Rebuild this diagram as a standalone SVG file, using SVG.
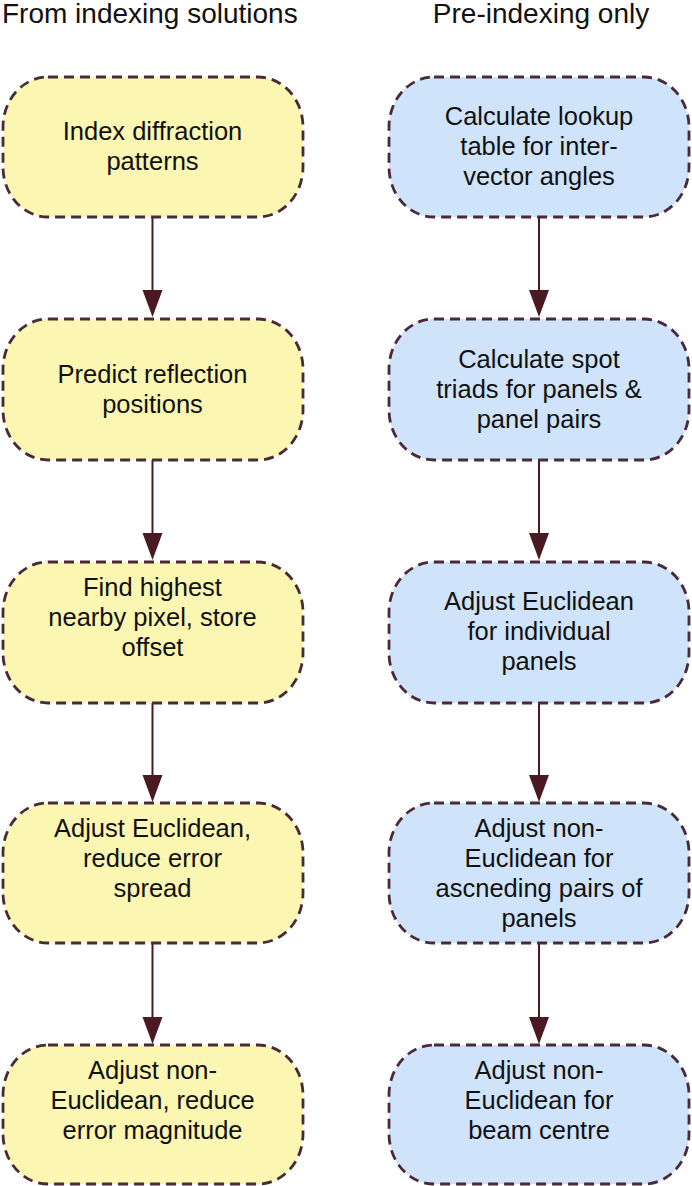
<svg xmlns="http://www.w3.org/2000/svg" width="692" height="1186" viewBox="0 0 692 1186">
<style>
.hdr{font-family:"Liberation Sans",Arial,sans-serif;font-size:28px;fill:#111}
.t{font-family:"Liberation Sans",Arial,sans-serif;font-size:25.5px;fill:#111;text-anchor:middle}
.y{fill:#fbf6b2;stroke:#4a2a38;stroke-width:2.8;stroke-dasharray:10 6}
.b{fill:#cfe3fa;stroke:#4a2a38;stroke-width:2.8;stroke-dasharray:10 6}
.c{stroke:#4a1a22;stroke-width:2;fill:none}
.h{fill:#4a1a22}
</style>
<text class="hdr" x="2" y="23">From indexing solutions</text>
<text class="hdr" x="541" y="23" text-anchor="middle">Pre-indexing only</text>
<g id="connectors">
<path class="c" d="M152.5,217 V290"/><path class="h" d="M142.5,290 L162.5,290 L152.5,317 Z"/>
<path class="c" d="M152.5,460 V533"/><path class="h" d="M142.5,533 L162.5,533 L152.5,560 Z"/>
<path class="c" d="M152.5,703 V775"/><path class="h" d="M142.5,775 L162.5,775 L152.5,802 Z"/>
<path class="c" d="M152.5,943 V1017"/><path class="h" d="M142.5,1017 L162.5,1017 L152.5,1044 Z"/>
<path class="c" d="M539,217 V290"/><path class="h" d="M529,290 L549,290 L539,317 Z"/>
<path class="c" d="M539,460 V533"/><path class="h" d="M529,533 L549,533 L539,560 Z"/>
<path class="c" d="M539,703 V775"/><path class="h" d="M529,775 L549,775 L539,802 Z"/>
<path class="c" d="M539,943 V1017"/><path class="h" d="M529,1017 L549,1017 L539,1044 Z"/>
</g>
<g id="L1"><rect class="y" x="3" y="77" width="300" height="140" rx="45" ry="50"/>
<text class="t" x="152.5" y="140">Index diffraction</text><text class="t" x="152.5" y="170">patterns</text></g>
<g id="L2"><rect class="y" x="3" y="319" width="300" height="141" rx="45" ry="50"/>
<text class="t" x="152.5" y="383">Predict reflection</text><text class="t" x="152.5" y="413">positions</text></g>
<g id="L3"><rect class="y" x="3" y="562" width="300" height="141" rx="45" ry="50"/>
<text class="t" x="152.5" y="596">Find highest</text><text class="t" x="152.5" y="626">nearby pixel, store</text><text class="t" x="152.5" y="656">offset</text></g>
<g id="L4"><rect class="y" x="3" y="803" width="300" height="140" rx="45" ry="50"/>
<text class="t" x="152.5" y="837">Adjust Euclidean,</text><text class="t" x="152.5" y="867">reduce error</text><text class="t" x="152.5" y="897">spread</text></g>
<g id="L5"><rect class="y" x="3" y="1045" width="300" height="139" rx="45" ry="50"/>
<text class="t" x="152.5" y="1079">Adjust non-</text><text class="t" x="152.5" y="1109">Euclidean, reduce</text><text class="t" x="152.5" y="1139">error magnitude</text></g>
<g id="R1"><rect class="b" x="389" y="77" width="300" height="140" rx="45" ry="50"/>
<text class="t" x="539" y="125">Calculate lookup</text><text class="t" x="539" y="155">table for inter-</text><text class="t" x="539" y="185">vector angles</text></g>
<g id="R2"><rect class="b" x="389" y="319" width="300" height="141" rx="45" ry="50"/>
<text class="t" x="539" y="368">Calculate spot</text><text class="t" x="539" y="398">triads for panels &amp;</text><text class="t" x="539" y="428">panel pairs</text></g>
<g id="R3"><rect class="b" x="389" y="562" width="300" height="141" rx="45" ry="50"/>
<text class="t" x="539" y="610">Adjust Euclidean</text><text class="t" x="539" y="640">for individual</text><text class="t" x="539" y="670">panels</text></g>
<g id="R4"><rect class="b" x="389" y="803" width="300" height="140" rx="45" ry="50"/>
<text class="t" x="539" y="837">Adjust non-</text><text class="t" x="539" y="867">Euclidean for</text><text class="t" x="539" y="897">ascneding pairs of</text><text class="t" x="539" y="927">panels</text></g>
<g id="R5"><rect class="b" x="389" y="1045" width="300" height="139" rx="45" ry="50"/>
<text class="t" x="539" y="1079">Adjust non-</text><text class="t" x="539" y="1109">Euclidean for</text><text class="t" x="539" y="1139">beam centre</text></g>
</svg>
